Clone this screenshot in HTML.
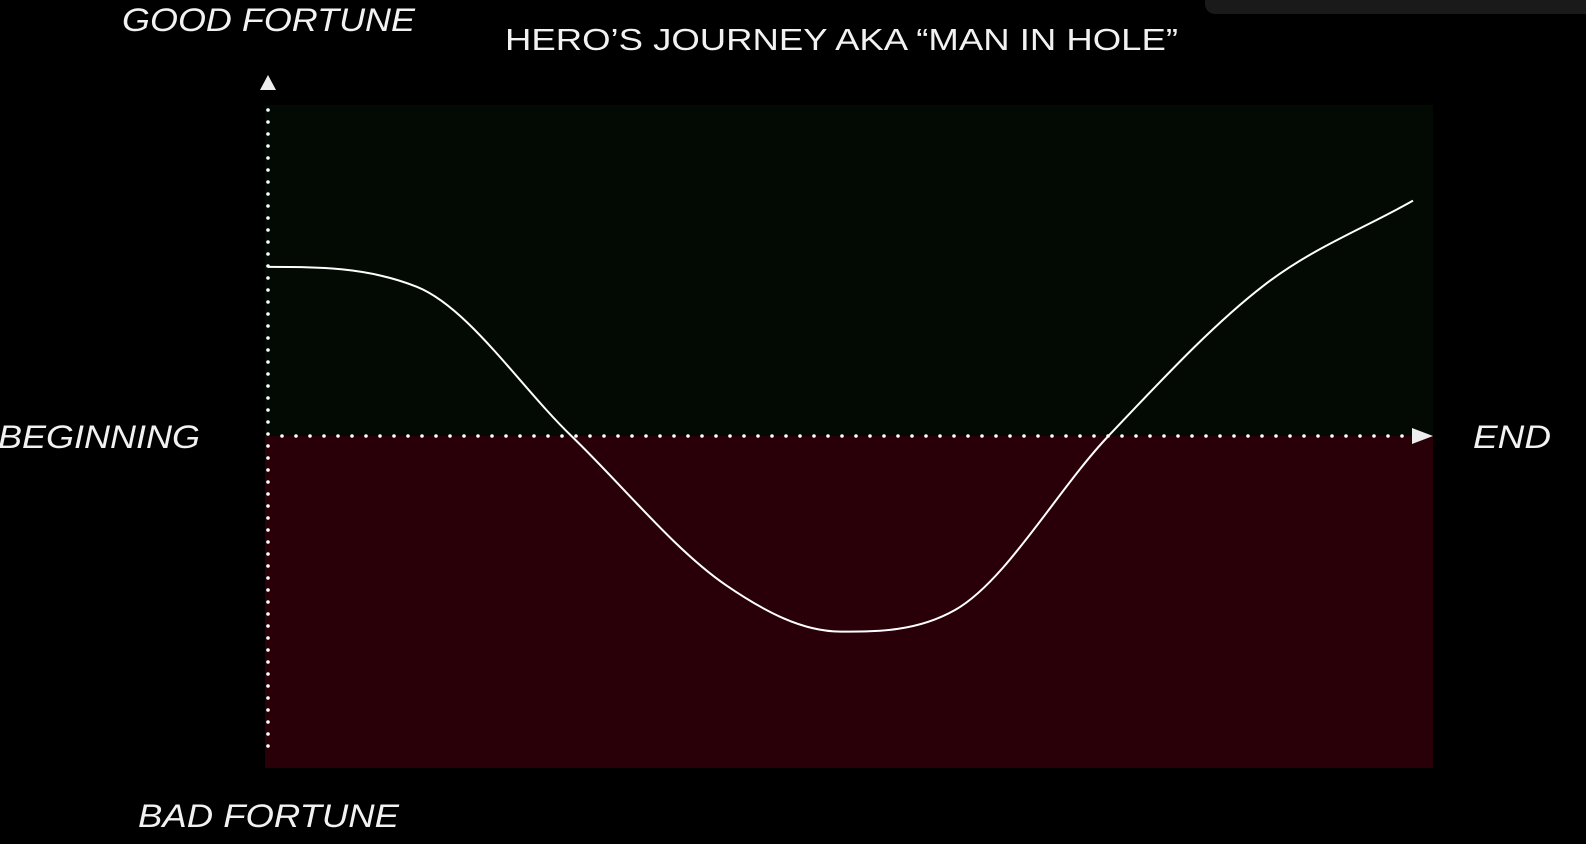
<!DOCTYPE html>
<html><head><meta charset="utf-8"><style>
html,body{margin:0;padding:0;background:#000;}
svg{display:block;}
text{font-family:"Liberation Sans",sans-serif;fill:#f2f2f2;}
</style></head><body>
<svg id="chart" width="1586" height="844" viewBox="0 0 1586 844">
<rect x="1205" y="-10" width="400" height="24" rx="10" fill="#1a1a1a"/>
<rect x="265" y="105" width="1168" height="331" fill="#020a03"/>
<rect x="265" y="436" width="1168" height="332" fill="#2a0008"/>
<text x="505" y="50" font-size="31" textLength="673" lengthAdjust="spacingAndGlyphs">HERO’S JOURNEY AKA “MAN IN HOLE”</text>
<text x="122" y="31" font-size="32" font-style="italic" textLength="293" lengthAdjust="spacingAndGlyphs">GOOD FORTUNE</text>
<text x="138" y="827" font-size="32" font-style="italic" textLength="261" lengthAdjust="spacingAndGlyphs">BAD FORTUNE</text>
<text x="-2" y="448" font-size="32" font-style="italic" textLength="202" lengthAdjust="spacingAndGlyphs">BEGINNING</text>
<text x="1473" y="448" font-size="32" font-style="italic" textLength="78" lengthAdjust="spacingAndGlyphs">END</text>
<g id="axes"></g>
<g id="series"></g>
</svg>
<script>
const storyProgress=[0,13,26.5,40,50,60,73.4,87,100];
const fortune=[5.1,4.5,0,-4.5,-5.9,-5.25,0,4.55,7.1];
const NS="http://www.w3.org/2000/svg";
const xS=v=>268+(v/100)*(1413-268);
const yS=v=>436-v*33.15;
const axes=document.getElementById('axes');
for(let y=110;y<=756;y+=12){const c=document.createElementNS(NS,'circle');


c.setAttribute('cx',268);c.setAttribute('cy',y);c.setAttribute('r',1.8);c.setAttribute('fill','#fff');axes.appendChild(c);}
for(let x=282;x<=1405;x+=14){const c=document.createElementNS(NS,'circle');


c.setAttribute('cx',x);c.setAttribute('cy',436);c.setAttribute('r',1.8);c.setAttribute('fill','#fff');axes.appendChild(c);}
const up=document.createElementNS(NS,'polygon');


up.setAttribute('points','268,75 260,90 276,90');up.setAttribute('fill','#eee');axes.appendChild(up);
const rt=document.createElementNS(NS,'polygon');


rt.setAttribute('points','1433,436 1412,428 1412,444');rt.setAttribute('fill','#eee');axes.appendChild(rt);
const P=storyProgress.map((v,i)=>[xS(v),yS(fortune[i])]);
const n=P.length,dl=[],m=[];
for(let i=0;i<n-1;i++)dl.push((P[i+1][1]-P[i][1])/(P[i+1][0]-P[i][0]));
m[0]=0;m[n-1]=dl[n-2];
for(let i=1;i<n-1;i++){m[i]=(dl[i-1]*dl[i]<=0)?0:(dl[i-1]+dl[i])/2;}
for(let i=0;i<n-1;i++){if(dl[i]===0){m[i]=m[i+1]=0;continue;}
 const a=m[i]/dl[i],b=m[i+1]/dl[i],s=a*a+b*b;if(s>9){const t=3/Math.sqrt(s);m[i]=t*a*dl[i];m[i+1]=t*b*dl[i];}}
let d=`M${P[0][0]},${P[0][1]}`;
for(let i=0;i<n-1;i++){const h=(P[i+1][0]-P[i][0])/3;
 d+=` C${P[i][0]+h},${P[i][1]+m[i]*h} ${P[i+1][0]-h},${P[i+1][1]-m[i+1]*h} ${P[i+1][0]},${P[i+1][1]}`;}
const path=document.createElementNS(NS,'path');


path.setAttribute('d',d);path.setAttribute('fill','none');path.setAttribute('stroke','#fff');path.setAttribute('stroke-width','2');
document.getElementById('series').appendChild(path);
</script>
</body></html>
